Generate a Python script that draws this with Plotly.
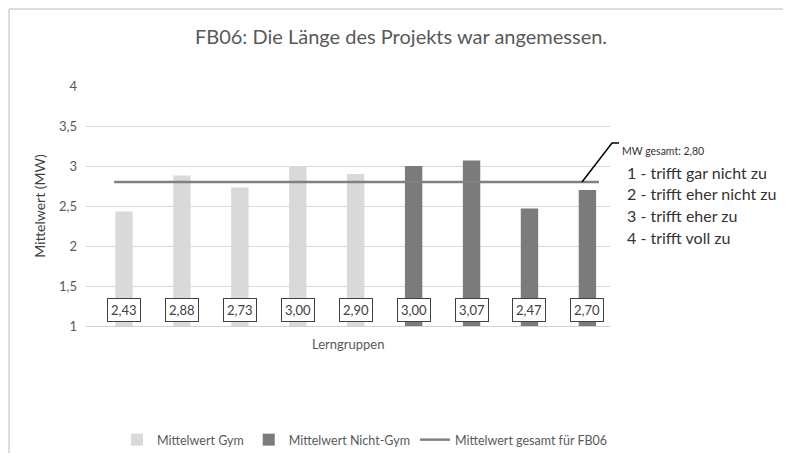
import plotly.graph_objects as go

categories = ["G1", "G2", "G3", "G4", "G5", "N1", "N2", "N3", "N4"]
gym_values = [2.43, 2.88, 2.73, 3.00, 2.90, None, None, None, None]
nichtgym_values = [None, None, None, None, None, 3.00, 3.07, 2.47, 2.70]
mw_gesamt = 2.80
y_ticks = [1, 1.5, 2, 2.5, 3, 3.5, 4]
y_ticklabels = ["1", "1,5", "2", "2,5", "3", "3,5", "4"]
scale_labels = ["1 - trifft gar nicht zu", "2 - trifft eher nicht zu",
                "3 - trifft eher zu", "4 - trifft voll zu"]

FONT = "Lato"
OFF = 8  # default body margin of the html page
W, H = 792 - 2 * OFF, 462 - 2 * OFF
# plot area in page pixels: x 86..610, y 86..326
PX0, PX1, PY0, PY1 = 86, 610, 86, 326
L = PX0 - OFF
T = PY0 - OFF
R = W - (PX1 - OFF)
B = H - (PY1 - OFF)
pw, ph = PX1 - PX0, PY1 - PY0

def px_x(x):
    return (x - PX0) / pw

def px_y(y):
    return (PY1 - y) / ph

idx = list(range(len(categories)))

fig = go.Figure()
fig.add_trace(go.Bar(x=idx, y=gym_values, name="Mittelwert Gym",
                     marker=dict(color="#d9d9d9", line=dict(width=0)), width=0.3,
                     base=0))
fig.add_trace(go.Bar(x=idx, y=nichtgym_values, name="Mittelwert Nicht-Gym",
                     marker=dict(color="#7b7b7b", line=dict(width=0)), width=0.3,
                     base=0))
fig.add_trace(go.Scatter(x=[-0.17, 8.2], y=[mw_gesamt, mw_gesamt], mode="lines",
                         name="Mittelwert gesamt für FB06",
                         line=dict(color="#808080", width=2.5)))

annotations = []
vals = [g if g is not None else n for g, n in zip(gym_values, nichtgym_values)]
for i, v in zip(idx, vals):
    annotations.append(dict(x=i, y=1.2, xref="x", yref="y",
                            text=f"{v:.2f}".replace(".", ","), showarrow=False,
                            font=dict(family=FONT, size=13, color="#404040"),
                            bgcolor="white", bordercolor="#404040", borderwidth=1,
                            borderpad=3))

annotations.append(dict(x=0.5, y=px_y(344), xref="paper", yref="paper",
                        yanchor="middle",
                        text="Lerngruppen", showarrow=False,
                        font=dict(family=FONT, size=13, color="#595959")))
annotations.append(dict(x=px_x(620), y=px_y(143), xref="paper", yref="paper",
                        xanchor="left", text="MW gesamt: " + f"{mw_gesamt:.2f}".replace(".", ","),
                        showarrow=False, font=dict(family=FONT, size=10.5, color="#333333")))
for k, s in enumerate(scale_labels):
    annotations.append(dict(x=px_x(625), y=px_y(172 + 21.7 * k), xref="paper", yref="paper",
                            xanchor="left", text=s, showarrow=False,
                            font=dict(family=FONT, size=16, color="#333333")))

edge_r = OFF + W - 1
edge_b = OFF + H - 1
shapes = [
    dict(type="path", xref="paper", yref="paper",
         path=f"M {px_x(582)} {px_y(182)} L {px_x(612)} {px_y(143)} L {px_x(619)} {px_y(143)}",
         line=dict(color="#000000", width=1.5)),
    dict(type="line", xref="paper", yref="paper", x0=px_x(OFF + 1), y0=px_y(OFF + 1),
         x1=px_x(edge_r), y1=px_y(OFF + 1), line=dict(color="#d0d0d0", width=1.5),
         layer="below"),
    dict(type="line", xref="paper", yref="paper", x0=px_x(OFF + 1), y0=px_y(OFF + 1),
         x1=px_x(OFF + 1), y1=px_y(edge_b), line=dict(color="#d0d0d0", width=1.5),
         layer="below"),
]

fig.update_layout(
    width=W, height=H,
    margin=dict(l=L, r=R, t=T, b=B, autoexpand=False),
    paper_bgcolor="white", plot_bgcolor="white",
    barmode="overlay",
    font=dict(family=FONT, color="#595959"),
    title=dict(text="FB06: Die Länge des Projekts war angemessen.",
               x=px_x(401), xanchor="center", xref="paper",
               y=1 - (37 - OFF) / H, yref="container", yanchor="middle",
               font=dict(family=FONT, size=20, color="#595959")),
    xaxis=dict(range=[-0.656, 8.39], showticklabels=False, showgrid=False,
               zeroline=False, showline=True, linecolor="#d0d0d0", linewidth=1,
               ticks=""),
    yaxis=dict(range=[1, 4], tickvals=y_ticks, ticktext=y_ticklabels,
               showgrid=True, gridcolor="#d9d9d9", gridwidth=1, zeroline=False,
               showline=False, ticks="", ticklabelstandoff=8,
               tickfont=dict(family=FONT, size=13, color="#595959"),
               title=dict(text="Mittelwert (MW)", standoff=10,
                          font=dict(family=FONT, size=14, color="#404040"))),
    legend=dict(orientation="h", x=px_x(365), xanchor="center",
                y=px_y(440), yanchor="middle",
                font=dict(family=FONT, size=12.5, color="#595959"),
                itemwidth=30, traceorder="normal"),
    annotations=annotations,
    shapes=shapes,
)

fig.write_html("out.html")
